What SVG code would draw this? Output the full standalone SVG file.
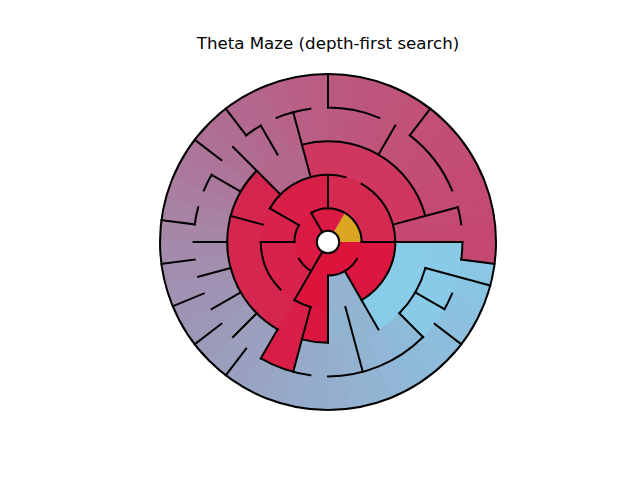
<svg xmlns="http://www.w3.org/2000/svg" width="640" height="480" viewBox="0 0 640 480">
<style>
.c{fill:none;stroke-width:34.2}
.c1{fill:none;stroke-width:23}
.o{fill:none;stroke-width:68}
.w{stroke:#000;stroke-width:2;stroke-linecap:square;fill:none}
.t{font-family:"DejaVu Sans",sans-serif;font-size:16.67px;text-anchor:middle;fill:#000}
</style>
<rect width="640" height="480" fill="#fff"/>
<text class="t" x="328" y="49">Theta Maze (depth-first search)</text>
<g id="cells" transform="translate(328,242)">
<g class="o" stroke-dasharray="7.9 400">
<circle r="134.4" pathLength="360" stroke="#C44870" transform="rotate(-7.7)"/>
<circle r="134.4" pathLength="360" stroke="#C44A71" transform="rotate(-15.2)"/>
<circle r="134.4" pathLength="360" stroke="#C34B72" transform="rotate(-22.7)"/>
<circle r="134.4" pathLength="360" stroke="#C34B73" transform="rotate(-30.2)"/>
<circle r="134.4" pathLength="360" stroke="#C34D74" transform="rotate(-37.7)"/>
<circle r="134.4" pathLength="360" stroke="#C24E75" transform="rotate(-45.2)"/>
<circle r="134.4" pathLength="360" stroke="#C24F77" transform="rotate(-52.7)"/>
<circle r="134.4" pathLength="360" stroke="#C15178" transform="rotate(-60.2)"/>
<circle r="134.4" pathLength="360" stroke="#C0537A" transform="rotate(-67.7)"/>
<circle r="134.4" pathLength="360" stroke="#BE557C" transform="rotate(-75.2)"/>
<circle r="134.4" pathLength="360" stroke="#BD577E" transform="rotate(-82.7)"/>
<circle r="134.4" pathLength="360" stroke="#BC597F" transform="rotate(-90.2)"/>
<circle r="134.4" pathLength="360" stroke="#BB5C82" transform="rotate(-97.7)"/>
<circle r="134.4" pathLength="360" stroke="#B95F85" transform="rotate(-105.2)"/>
<circle r="134.4" pathLength="360" stroke="#B76288" transform="rotate(-112.7)"/>
<circle r="134.4" pathLength="360" stroke="#B5668C" transform="rotate(-120.2)"/>
<circle r="134.4" pathLength="360" stroke="#B3698F" transform="rotate(-127.7)"/>
<circle r="134.4" pathLength="360" stroke="#B16C92" transform="rotate(-135.2)"/>
<circle r="134.4" pathLength="360" stroke="#AF7096" transform="rotate(-142.7)"/>
<circle r="134.4" pathLength="360" stroke="#AD7599" transform="rotate(-150.2)"/>
<circle r="134.4" pathLength="360" stroke="#AB799D" transform="rotate(-157.7)"/>
<circle r="134.4" pathLength="360" stroke="#AA7EA0" transform="rotate(-165.2)"/>
<circle r="134.4" pathLength="360" stroke="#A882A4" transform="rotate(-172.7)"/>
<circle r="134.4" pathLength="360" stroke="#A687A7" transform="rotate(-180.2)"/>
<circle r="134.4" pathLength="360" stroke="#A48BAB" transform="rotate(-187.7)"/>
<circle r="134.4" pathLength="360" stroke="#A38EAE" transform="rotate(-195.2)"/>
<circle r="134.4" pathLength="360" stroke="#A191B2" transform="rotate(-202.7)"/>
<circle r="134.4" pathLength="360" stroke="#A094B5" transform="rotate(-210.2)"/>
<circle r="134.4" pathLength="360" stroke="#9E98B8" transform="rotate(-217.7)"/>
<circle r="134.4" pathLength="360" stroke="#9D9BBA" transform="rotate(-225.2)"/>
<circle r="134.4" pathLength="360" stroke="#9B9EBD" transform="rotate(-232.7)"/>
<circle r="134.4" pathLength="360" stroke="#9AA1C0" transform="rotate(-240.2)"/>
<circle r="134.4" pathLength="360" stroke="#99A4C3" transform="rotate(-247.7)"/>
<circle r="134.4" pathLength="360" stroke="#97A8C7" transform="rotate(-255.2)"/>
<circle r="134.4" pathLength="360" stroke="#96ABCA" transform="rotate(-262.7)"/>
<circle r="134.4" pathLength="360" stroke="#94ADCC" transform="rotate(-270.2)"/>
<circle r="134.4" pathLength="360" stroke="#94AFCE" transform="rotate(-277.7)"/>
<circle r="134.4" pathLength="360" stroke="#93B2D1" transform="rotate(-285.2)"/>
<circle r="134.4" pathLength="360" stroke="#92B4D3" transform="rotate(-292.7)"/>
<circle r="134.4" pathLength="360" stroke="#91B6D6" transform="rotate(-300.2)"/>
<circle r="134.4" pathLength="360" stroke="#8FB9D8" transform="rotate(-307.7)"/>
<circle r="134.4" pathLength="360" stroke="#8EBBDA" transform="rotate(-315.2)"/>
<circle r="134.4" pathLength="360" stroke="#8DBDDC" transform="rotate(-322.7)"/>
<circle r="134.4" pathLength="360" stroke="#8CC0DE" transform="rotate(-330.2)"/>
<circle r="134.4" pathLength="360" stroke="#8BC2E1" transform="rotate(-337.7)"/>
<circle r="134.4" pathLength="360" stroke="#8AC4E3" transform="rotate(-345.2)"/>
<circle r="134.4" pathLength="360" stroke="#89C7E5" transform="rotate(-352.7)"/>
<circle r="134.4" pathLength="360" stroke="#C44870" transform="rotate(-360.2)"/>
</g>
<g class="c">
<circle r="117.6" pathLength="360" stroke="#D81E46" stroke-dasharray="15.4 400" transform="rotate(-255.2)"/>
<circle r="117.6" pathLength="360" stroke="#88CAE7" stroke-dasharray="45.4 400" transform="rotate(-360.2)"/>

<circle r="84" pathLength="360" stroke="#C44870" stroke-dasharray="15.4 400" transform="rotate(-15.2)"/>
<circle r="84" pathLength="360" stroke="#CF3660" stroke-dasharray="90.4 400" transform="rotate(-105.2)"/>
<circle r="84" pathLength="360" stroke="#B5668C" stroke-dasharray="30.4 400" transform="rotate(-135.2)"/>
<circle r="84" pathLength="360" stroke="#D5264F" stroke-dasharray="105.4 400" transform="rotate(-240.2)"/>
<circle r="84" pathLength="360" stroke="#D81F48" stroke-dasharray="15.4 400" transform="rotate(-255.2)"/>
<circle r="84" pathLength="360" stroke="#DB173F" stroke-dasharray="15.4 400" transform="rotate(-270.2)"/>
<circle r="84" pathLength="360" stroke="#92B3D2" stroke-dasharray="30.4 400" transform="rotate(-300.2)"/>
<circle r="84" pathLength="360" stroke="#87CDEA" stroke-dasharray="60.4 400" transform="rotate(-360.2)"/>

<circle r="50.4" pathLength="360" stroke="#D42A52" stroke-dasharray="90.4 400" transform="rotate(-90.2)"/>
<circle r="50.4" pathLength="360" stroke="#D81F48" stroke-dasharray="60.4 400" transform="rotate(-150.2)"/>
<circle r="50.4" pathLength="360" stroke="#D7224B" stroke-dasharray="90.4 400" transform="rotate(-240.2)"/>
<circle r="50.4" pathLength="360" stroke="#DC143C" stroke-dasharray="30.4 400" transform="rotate(-270.2)"/>
<circle r="50.4" pathLength="360" stroke="#94B2D1" stroke-dasharray="30.4 400" transform="rotate(-300.2)"/>
<circle r="50.4" pathLength="360" stroke="#DB163F" stroke-dasharray="60.4 400" transform="rotate(-360.2)"/>
</g>
<g class="c1">
<circle r="22.4" pathLength="360" stroke="#DAA520" stroke-dasharray="60.4 400" transform="rotate(-60.2)"/>
<circle r="22.4" pathLength="360" stroke="#DA1A42" stroke-dasharray="180.4 400" transform="rotate(-240.2)"/>
<circle r="22.4" pathLength="360" stroke="#DC143C" stroke-dasharray="120.4 400" transform="rotate(-360.2)"/>
</g>
</g>
<g id="walls" class="w" transform="translate(328,242)">
<line x1="33.6" x2="134.4"/>
<line x1="67.2" x2="134.4" transform="rotate(-15)"/>
<line x1="134.4" x2="168" transform="rotate(-52.5)"/>
<line x1="100.8" x2="134.4" transform="rotate(-60)"/>
<line x1="33.6" x2="67.2" transform="rotate(-90)"/>
<line x1="134.4" x2="168" transform="rotate(-90)"/>
<line x1="67.2" x2="134.4" transform="rotate(-105)"/>
<line x1="11.2" x2="33.6" transform="rotate(-120)"/>
<line x1="100.8" x2="134.4" transform="rotate(-120)"/>
<line x1="134.4" x2="168" transform="rotate(-127.5)"/>
<line x1="67.2" x2="134.4" transform="rotate(-135)"/>
<line x1="134.4" x2="168" transform="rotate(-142.5)"/>
<line x1="33.6" x2="67.2" transform="rotate(-150)"/>
<line x1="100.8" x2="134.4" transform="rotate(-150)"/>
<line x1="67.2" x2="100.8" transform="rotate(-165)"/>
<line x1="134.4" x2="168" transform="rotate(-172.5)"/>
<line x1="33.6" x2="67.2" transform="rotate(-180)"/>
<line x1="100.8" x2="134.4" transform="rotate(-180)"/>
<line x1="134.4" x2="168" transform="rotate(-187.5)"/>
<line x1="100.8" x2="134.4" transform="rotate(-195)"/>
<line x1="134.4" x2="168" transform="rotate(-202.5)"/>
<line x1="100.8" x2="134.4" transform="rotate(-210)"/>
<line x1="134.4" x2="168" transform="rotate(-217.5)"/>
<line x1="100.8" x2="134.4" transform="rotate(-225)"/>
<line x1="134.4" x2="168" transform="rotate(-232.5)"/>
<line x1="11.2" x2="67.2" transform="rotate(-240)"/>
<line x1="100.8" x2="134.4" transform="rotate(-240)"/>
<line x1="67.2" x2="134.4" transform="rotate(-255)"/>
<line x1="33.6" x2="100.8" transform="rotate(-270)"/>
<line x1="67.2" x2="134.4" transform="rotate(-285)"/>
<line x1="33.6" x2="100.8" transform="rotate(-300)"/>
<line x1="100.8" x2="134.4" transform="rotate(-315)"/>
<line x1="134.4" x2="168" transform="rotate(-322.5)"/>
<line x1="100.8" x2="134.4" transform="rotate(-330)"/>
<line x1="100.8" x2="168" transform="rotate(-345)"/>
<line x1="134.4" x2="168" transform="rotate(-352.5)"/>

<circle r="33.6" pathLength="360" stroke-dasharray="120 400" transform="rotate(-120)"/>
<circle r="33.6" pathLength="360" stroke-dasharray="30 400" transform="rotate(-180)"/>
<circle r="33.6" pathLength="360" stroke-dasharray="30 400" transform="rotate(-240)"/>
<circle r="33.6" pathLength="360" stroke-dasharray="60 400" transform="rotate(-330)"/>

<circle r="67.2" pathLength="360" stroke-dasharray="120 400" transform="rotate(-60)"/>
<circle r="67.2" pathLength="360" stroke-dasharray="75 400" transform="rotate(-150)"/>
<circle r="67.2" pathLength="360" stroke-dasharray="45 400" transform="rotate(-225)"/>
<circle r="67.2" pathLength="360" stroke-dasharray="15 400" transform="rotate(-255)"/>

<circle r="100.8" pathLength="360" stroke-dasharray="90 400" transform="rotate(-105)"/>
<circle r="100.8" pathLength="360" stroke-dasharray="105 400" transform="rotate(-240)"/>
<circle r="100.8" pathLength="360" stroke-dasharray="15 400" transform="rotate(-270)"/>
<circle r="100.8" pathLength="360" stroke-dasharray="30 400" transform="rotate(-345)"/>

<circle r="134.4" pathLength="360" stroke-dasharray="7.5 400" transform="rotate(-15)"/>
<circle r="134.4" pathLength="360" stroke-dasharray="30 400" transform="rotate(-52.5)"/>
<circle r="134.4" pathLength="360" stroke-dasharray="22.5 400" transform="rotate(-90)"/>
<circle r="134.4" pathLength="360" stroke-dasharray="15 400" transform="rotate(-112.5)"/>
<circle r="134.4" pathLength="360" stroke-dasharray="7.5 400" transform="rotate(-127.5)"/>
<circle r="134.4" pathLength="360" stroke-dasharray="7.5 400" transform="rotate(-157.5)"/>
<circle r="134.4" pathLength="360" stroke-dasharray="7.5 400" transform="rotate(-172.5)"/>
<circle r="134.4" pathLength="360" stroke-dasharray="22.5 400" transform="rotate(-262.5)"/>
<circle r="134.4" pathLength="360" stroke-dasharray="45 400" transform="rotate(-315)"/>
<circle r="134.4" pathLength="360" stroke-dasharray="7.5 400" transform="rotate(-337.5)"/>
<circle r="134.4" pathLength="360" stroke-dasharray="7.5 400" transform="rotate(-360)"/>

<circle r="168"/>
<circle r="11.2" fill="#fff"/>
</g>
</svg>
